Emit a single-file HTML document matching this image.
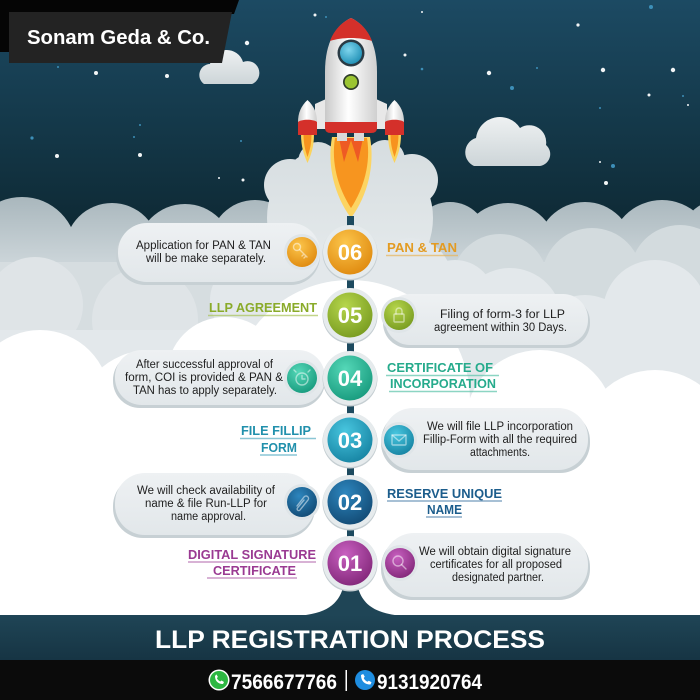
<!DOCTYPE html>
<html><head><meta charset="utf-8"><style>
html,body{margin:0;padding:0;background:#fff;}
svg{display:block;}
text{font-family:"Liberation Sans",Arial,sans-serif;}
</style></head><body>
<svg width="700" height="700" viewBox="0 0 700 700" xmlns="http://www.w3.org/2000/svg">
<defs>
<linearGradient id="sky" x1="0" y1="0" x2="0" y2="230" gradientUnits="userSpaceOnUse">
<stop offset="0" stop-color="#1c4a63"/><stop offset="0.55" stop-color="#143849"/><stop offset="1" stop-color="#0e2934"/></linearGradient>
<linearGradient id="cA" x1="0" y1="195" x2="0" y2="265" gradientUnits="userSpaceOnUse">
<stop offset="0" stop-color="#a8b6bc"/><stop offset="1" stop-color="#cdd6da"/></linearGradient>
<linearGradient id="pf" x1="0" y1="140" x2="0" y2="260" gradientUnits="userSpaceOnUse">
<stop offset="0" stop-color="#d6dde0"/><stop offset="1" stop-color="#e4e9eb"/></linearGradient>
<linearGradient id="sc" x1="0" y1="0" x2="0" y2="1"><stop offset="0" stop-color="#eef1f2"/><stop offset="1" stop-color="#cdd5d8"/></linearGradient>
<linearGradient id="band" x1="0" y1="615" x2="0" y2="661" gradientUnits="userSpaceOnUse"><stop offset="0" stop-color="#1f4556"/><stop offset="1" stop-color="#163443"/></linearGradient>
<linearGradient id="body" x1="0" y1="0" x2="1" y2="0"><stop offset="0" stop-color="#c9c9c9"/><stop offset="0.45" stop-color="#ffffff"/><stop offset="1" stop-color="#cfcfcf"/></linearGradient>
<radialGradient id="win" cx="0.4" cy="0.35" r="0.7"><stop offset="0" stop-color="#7fd6ee"/><stop offset="1" stop-color="#1f8fb5"/></radialGradient>
<radialGradient id="gO" cx="0.4" cy="0.3" r="0.75"><stop offset="0" stop-color="#fcc64c"/><stop offset="1" stop-color="#df890e"/></radialGradient>
<radialGradient id="gG" cx="0.4" cy="0.3" r="0.75"><stop offset="0" stop-color="#b6d64c"/><stop offset="1" stop-color="#789b20"/></radialGradient>
<radialGradient id="gT" cx="0.4" cy="0.3" r="0.75"><stop offset="0" stop-color="#55d8b8"/><stop offset="1" stop-color="#179a7d"/></radialGradient>
<radialGradient id="gC" cx="0.4" cy="0.3" r="0.75"><stop offset="0" stop-color="#48c6df"/><stop offset="1" stop-color="#1683a2"/></radialGradient>
<radialGradient id="gB" cx="0.4" cy="0.3" r="0.75"><stop offset="0" stop-color="#2d86be"/><stop offset="1" stop-color="#124a74"/></radialGradient>
<radialGradient id="gP" cx="0.4" cy="0.3" r="0.75"><stop offset="0" stop-color="#c860c0"/><stop offset="1" stop-color="#822779"/></radialGradient>
<linearGradient id="bub" x1="0" y1="0" x2="0" y2="1"><stop offset="0" stop-color="#eef1f3"/><stop offset="1" stop-color="#e2e7ea"/></linearGradient>
</defs>

<!-- sky -->
<rect x="0" y="0" width="700" height="330" fill="url(#sky)"/>

<!-- stars -->
<g fill="#f2f5f6">
<circle cx="315" cy="15" r="1.5"/><circle cx="247" cy="43" r="2.2"/><circle cx="96" cy="73" r="2"/><circle cx="167" cy="76" r="2"/>
<circle cx="57" cy="156" r="2"/><circle cx="140" cy="155" r="2"/><circle cx="243" cy="180" r="1.5"/><circle cx="578" cy="25" r="1.6"/>
<circle cx="405" cy="55" r="1.5"/><circle cx="489" cy="73" r="2.2"/><circle cx="603" cy="70" r="2.2"/><circle cx="673" cy="70" r="2.2"/>
<circle cx="649" cy="95" r="1.5"/><circle cx="606" cy="183" r="2"/><circle cx="600" cy="162" r="1"/><circle cx="688" cy="105" r="1"/>
<circle cx="422" cy="12" r="1"/><circle cx="219" cy="178" r="1"/>
</g>
<g fill="#3d8fb8">
<circle cx="326" cy="17" r="1"/><circle cx="58" cy="67" r="1"/><circle cx="140" cy="125" r="1"/><circle cx="134" cy="137" r="1"/>
<circle cx="32" cy="138" r="1.6"/><circle cx="241" cy="141" r="1"/><circle cx="651" cy="7" r="2"/><circle cx="422" cy="69" r="1.3"/>
<circle cx="537" cy="68" r="1"/><circle cx="512" cy="88" r="2"/><circle cx="683" cy="96" r="1"/><circle cx="600" cy="108" r="1"/>
<circle cx="613" cy="166" r="2"/>
</g>

<!-- small clouds -->
<g fill="url(#sc)">
<path d="M204,84 A11,11 0 0 1 210,64 A17,17 0 0 1 243,62 A11,11 0 0 1 252,84 Z"/>
<path d="M474,166 A15,15 0 0 1 476,138 A24,24 0 0 1 520,128 A17,17 0 0 1 546,145 A12,12 0 0 1 540,166 Z"/>
</g>

<!-- cloud layer A (back) -->
<g fill="url(#cA)">
<circle cx="22" cy="252" r="55"/><circle cx="112" cy="250" r="47"/><circle cx="185" cy="252" r="48"/><circle cx="255" cy="245" r="45"/>
<circle cx="450" cy="240" r="38"/><circle cx="508" cy="252" r="49"/><circle cx="585" cy="250" r="48"/><circle cx="662" cy="252" r="52"/>
<circle cx="720" cy="240" r="40"/>
</g>
<rect x="0" y="262" width="700" height="80" fill="#d6dde0"/>

<!-- rocket puffs -->
<g fill="url(#pf)">
<ellipse cx="335" cy="218" rx="68" ry="72"/><ellipse cx="365" cy="218" rx="68" ry="72"/>
<circle cx="290" cy="185" r="26"/><circle cx="412" cy="180" r="26"/>
<circle cx="318" cy="162" r="20"/><circle cx="385" cy="160" r="20"/>
</g>

<!-- layer B -->
<g fill="#dfe4e7">
<circle cx="35" cy="305" r="48"/><circle cx="145" cy="320" r="53"/>
</g>
<g fill="#d3dbde">
<circle cx="500" cy="282" r="48"/><circle cx="592" cy="278" r="50"/><circle cx="680" cy="275" r="50"/>
</g>
<g fill="#e3e8eb">
<circle cx="510" cy="320" r="52"/><circle cx="655" cy="312" r="52"/><circle cx="585" cy="345" r="50"/>
<rect x="0" y="330" width="700" height="130"/>
<circle cx="300" cy="280" r="42"/><circle cx="410" cy="280" r="42"/><circle cx="455" cy="300" r="40"/><circle cx="250" cy="300" r="40"/>
</g>

<!-- white front -->
<g fill="#ffffff">
<circle cx="350" cy="400" r="120"/><circle cx="225" cy="375" r="58"/><circle cx="40" cy="400" r="70"/>
<circle cx="150" cy="425" r="75"/><circle cx="540" cy="425" r="75"/><circle cx="655" cy="445" r="75"/>
<rect x="0" y="420" width="700" height="200"/>
</g>

<!-- rocket -->
<g>
<path d="M301,134 C301,147 304,155 307.5,163 C311,155 314,147 314,134Z" fill="#fbd35c"/>
<path d="M303.5,134 C303.5,145 305.5,151 307.5,157 C309.5,151 311.5,145 311.5,134Z" fill="#f7931e"/>
<path d="M388,134 C388,147 391,155 394.5,163 C398,155 401,147 401,134Z" fill="#fbd35c"/>
<path d="M390.5,134 C390.5,145 392.5,151 394.5,157 C396.5,151 398.5,145 398.5,134Z" fill="#f7931e"/>
<path d="M332,137 C327,165 334,195 351,218 C368,195 375,165 370,137Z" fill="#fcd462"/>
<path d="M335,138 C331,163 338,188 351,208 C364,188 371,163 367,138Z" fill="#f7951f"/>
<path d="M339,138 L344,162 L351,140 L358,162 L363,138Z" fill="#ee5a24"/>
<rect x="337" y="131" width="10" height="10" fill="#d9d9d9"/><rect x="354" y="131" width="10" height="10" fill="#d9d9d9"/>
<polygon points="315,104 326,99 326,129 315,129" fill="#e8e8e8"/>
<polygon points="376,99 387,104 387,129 376,129" fill="#e8e8e8"/>
<path d="M307.5,100 C314,106 317,113 317,122 L317,134 L298,134 L298,122 C298,113 301,106 307.5,100Z" fill="url(#body)"/>
<path d="M298,122 C301,119 314,119 317,122 L317,135 L298,135Z" fill="#d4302a"/>
<path d="M394.5,100 C401,106 404,113 404,122 L404,134 L385,134 L385,122 C385,113 388,106 394.5,100Z" fill="url(#body)"/>
<path d="M385,122 C388,119 401,119 404,122 L404,135 L385,135Z" fill="#d4302a"/>
<path d="M351,18 C366,25 377,42 377,72 L377,126 L325,126 L325,72 C325,42 336,25 351,18Z" fill="url(#body)"/>
<path d="M351,18 C360,22 368,30 372,41 C360,37 342,37 330,41 C334,30 342,22 351,18Z" fill="#d4302a"/>
<path d="M325,122 L377,122 L377,128 Q377,133 371,133 L331,133 Q325,133 325,128Z" fill="#d4302a"/>
<circle cx="351" cy="53" r="13.5" fill="#2a3b45"/><circle cx="351" cy="53" r="11" fill="url(#win)"/>
<circle cx="351" cy="82" r="8" fill="#2f3d2a"/><circle cx="351" cy="82" r="6.3" fill="#9bc532"/>
</g>

<!-- timeline line -->
<rect x="347" y="216" width="7" height="380" fill="#1d4a5f"/>

<!-- bubbles -->
<g>
<rect x="116" y="226" width="204" height="59" rx="29" fill="#c7d0d4"/>
<rect x="118" y="223" width="202" height="59" rx="29" fill="url(#bub)"/>
<rect x="383" y="297" width="207" height="51" rx="25" fill="#c7d0d4"/>
<rect x="385" y="294" width="203" height="51" rx="25" fill="url(#bub)"/>
<rect x="113" y="353" width="212" height="55" rx="27" fill="#c7d0d4"/>
<rect x="115" y="350" width="210" height="55" rx="27" fill="url(#bub)"/>
<rect x="381" y="411" width="209" height="62" rx="30" fill="#c7d0d4"/>
<rect x="383" y="408" width="205" height="62" rx="30" fill="url(#bub)"/>
<rect x="113" y="476" width="202" height="62" rx="30" fill="#c7d0d4"/>
<rect x="115" y="473" width="200" height="62" rx="30" fill="url(#bub)"/>
<rect x="381" y="536" width="209" height="64" rx="31" fill="#c7d0d4"/>
<rect x="383" y="533" width="205" height="64" rx="31" fill="url(#bub)"/>
</g>

<!-- bubble texts -->
<g font-size="11.5" fill="#1e1e1e">
<text x="136" y="249" textLength="135" lengthAdjust="spacingAndGlyphs">Application for PAN &amp; TAN</text>
<text x="146" y="262" textLength="120" lengthAdjust="spacingAndGlyphs">will be make separately.</text>
<text x="440" y="318" textLength="125" lengthAdjust="spacingAndGlyphs">Filing of form-3 for LLP</text>
<text x="434" y="331" textLength="133" lengthAdjust="spacingAndGlyphs">agreement within 30 Days.</text>
<text x="136" y="368" textLength="137" lengthAdjust="spacingAndGlyphs">After successful approval of</text>
<text x="125" y="381" textLength="158" lengthAdjust="spacingAndGlyphs">form, COI is provided &amp; PAN &amp;</text>
<text x="133" y="394" textLength="144" lengthAdjust="spacingAndGlyphs">TAN has to apply separately.</text>
<text x="427" y="430" textLength="146" lengthAdjust="spacingAndGlyphs">We will file LLP incorporation</text>
<text x="423" y="443" textLength="154" lengthAdjust="spacingAndGlyphs">Fillip-Form with all the required</text>
<text x="470" y="456" textLength="60" lengthAdjust="spacingAndGlyphs">attachments.</text>
<text x="137" y="494" textLength="138" lengthAdjust="spacingAndGlyphs">We will check availability of</text>
<text x="145" y="507" textLength="122" lengthAdjust="spacingAndGlyphs">name &amp; file Run-LLP for</text>
<text x="171" y="520" textLength="75" lengthAdjust="spacingAndGlyphs">name approval.</text>
<text x="419" y="555" textLength="152" lengthAdjust="spacingAndGlyphs">We will obtain digital signature</text>
<text x="430" y="568" textLength="132" lengthAdjust="spacingAndGlyphs">certificates for all proposed</text>
<text x="452" y="581" textLength="92" lengthAdjust="spacingAndGlyphs">designated partner.</text>
</g>

<!-- labels -->
<g font-size="12.5" font-weight="bold">
<text x="387" y="252" fill="#e39b22" textLength="70" lengthAdjust="spacingAndGlyphs">PAN &amp; TAN</text>
<text x="209" y="312" fill="#8aab2a" textLength="108" lengthAdjust="spacingAndGlyphs">LLP AGREEMENT</text>
<text x="387" y="372" fill="#26ab8c" textLength="106" lengthAdjust="spacingAndGlyphs">CERTIFICATE OF</text>
<text x="390" y="388" fill="#26ab8c" textLength="106" lengthAdjust="spacingAndGlyphs">INCORPORATION</text>
<text x="241" y="435" fill="#2190ac" textLength="70" lengthAdjust="spacingAndGlyphs">FILE FILLIP</text>
<text x="261" y="452" fill="#2190ac" textLength="36" lengthAdjust="spacingAndGlyphs">FORM</text>
<text x="387" y="498" fill="#1c5d8c" textLength="115" lengthAdjust="spacingAndGlyphs">RESERVE UNIQUE</text>
<text x="427" y="514" fill="#1c5d8c" textLength="35" lengthAdjust="spacingAndGlyphs">NAME</text>
<text x="188" y="559" fill="#9a3a92" textLength="128" lengthAdjust="spacingAndGlyphs">DIGITAL SIGNATURE</text>
<text x="213" y="575" fill="#9a3a92" textLength="83" lengthAdjust="spacingAndGlyphs">CERTIFICATE</text>
</g>
<g stroke-width="1.5" opacity="0.7">
<line x1="386" y1="255.5" x2="458" y2="255.5" stroke="#e8b55a"/>
<line x1="208" y1="315.5" x2="318" y2="315.5" stroke="#a9c45a"/>
<line x1="386" y1="375.5" x2="499" y2="375.5" stroke="#5cc4aa"/>
<line x1="389" y1="391.5" x2="497" y2="391.5" stroke="#5cc4aa"/>
<line x1="240" y1="438.5" x2="316" y2="438.5" stroke="#5aaec4"/>
<line x1="260" y1="455" x2="297" y2="455" stroke="#5aaec4"/>
<line x1="387" y1="501" x2="502" y2="501" stroke="#5a8ab0"/>
<line x1="426" y1="517" x2="462" y2="517" stroke="#5a8ab0"/>
<line x1="188" y1="562" x2="316" y2="562" stroke="#b56eb0"/>
<line x1="207" y1="578" x2="297" y2="578" stroke="#b56eb0"/>
</g>

<!-- bottom band -->
<rect x="0" y="615" width="700" height="46" fill="url(#band)"/>
<path d="M296,616 C327,614 338,604 343,588 L358,588 C363,604 374,614 405,616 Z" fill="#1f4556"/>

<!-- main circles -->
<g>
<g><circle cx="350" cy="253" r="27.5" fill="#c5ced2"/><circle cx="350" cy="252" r="27" fill="#e6ebed"/><circle cx="350" cy="252" r="22.5" fill="url(#gO)"/><text x="350" y="260" font-size="22" font-weight="bold" fill="#fff" text-anchor="middle">06</text></g>
<g><circle cx="350" cy="316" r="27.5" fill="#c5ced2"/><circle cx="350" cy="315" r="27" fill="#e6ebed"/><circle cx="350" cy="315" r="22.5" fill="url(#gG)"/><text x="350" y="323" font-size="22" font-weight="bold" fill="#fff" text-anchor="middle">05</text></g>
<g><circle cx="350" cy="379" r="27.5" fill="#c5ced2"/><circle cx="350" cy="378" r="27" fill="#e6ebed"/><circle cx="350" cy="378" r="22.5" fill="url(#gT)"/><text x="350" y="386" font-size="22" font-weight="bold" fill="#fff" text-anchor="middle">04</text></g>
<g><circle cx="350" cy="441" r="27.5" fill="#c5ced2"/><circle cx="350" cy="440" r="27" fill="#e6ebed"/><circle cx="350" cy="440" r="22.5" fill="url(#gC)"/><text x="350" y="448" font-size="22" font-weight="bold" fill="#fff" text-anchor="middle">03</text></g>
<g><circle cx="350" cy="503" r="27.5" fill="#c5ced2"/><circle cx="350" cy="502" r="27" fill="#e6ebed"/><circle cx="350" cy="502" r="22.5" fill="url(#gB)"/><text x="350" y="510" font-size="22" font-weight="bold" fill="#fff" text-anchor="middle">02</text></g>
<g><circle cx="350" cy="564" r="27.5" fill="#c5ced2"/><circle cx="350" cy="563" r="27" fill="#e6ebed"/><circle cx="350" cy="563" r="22.5" fill="url(#gP)"/><text x="350" y="571" font-size="22" font-weight="bold" fill="#fff" text-anchor="middle">01</text></g>
</g>

<!-- small icon circles -->
<g>
<circle cx="302" cy="252" r="18" fill="#dfe5e8"/><circle cx="302" cy="252" r="15" fill="url(#gO)"/>
<circle cx="399" cy="315" r="18" fill="#dfe5e8"/><circle cx="399" cy="315" r="15" fill="url(#gG)"/>
<circle cx="302" cy="378" r="18" fill="#dfe5e8"/><circle cx="302" cy="378" r="15" fill="url(#gT)"/>
<circle cx="399" cy="440" r="18" fill="#dfe5e8"/><circle cx="399" cy="440" r="15" fill="url(#gC)"/>
<circle cx="302" cy="502" r="18" fill="#dfe5e8"/><circle cx="302" cy="502" r="15" fill="url(#gB)"/>
<circle cx="400" cy="563" r="18" fill="#dfe5e8"/><circle cx="400" cy="563" r="15" fill="url(#gP)"/>
</g>
<g fill="none" stroke="#ffffff" stroke-opacity="0.5" stroke-width="1.4" stroke-linecap="round">
<circle cx="297" cy="247" r="3.5"/><path d="M299.5,249.5 L307,257 M304,254 L302,256 M306,256 L304,258"/>
<rect x="394" y="314" width="10" height="8" rx="1"/><path d="M396,314 v-3 a3,3 0 0 1 6,0 v3"/>
<circle cx="302" cy="379" r="6"/><path d="M302,379 v-3.5 M302,379 h3 M296,372 l-2,-2 M308,372 l2,-2"/>
<rect x="392" y="435" width="14" height="10" rx="1"/><path d="M392,435 L399,441 L406,435"/>
<path d="M297,506 L304,497 a2.5,2.5 0 0 1 4,3 L300,510 a1.5,1.5 0 0 1 -2.5,-2 L304,500"/>
<circle cx="398" cy="561" r="5"/><path d="M401.5,564.5 L406,569"/>
</g>

<!-- title -->
<text x="155" y="648" font-size="25" font-weight="bold" fill="#ffffff" textLength="390" lengthAdjust="spacingAndGlyphs">LLP REGISTRATION PROCESS</text>

<!-- black footer -->
<rect x="0" y="660" width="700" height="40" fill="#0b0b0b"/>
<circle cx="219" cy="680" r="10.5" fill="#ffffff"/>
<circle cx="219" cy="680" r="9" fill="#2db742"/>
<path d="M215,676 c0,5 3,8 8,8 l1,-2 l-2.5,-1.5 l-1.2,1 c-1.5,-0.6 -2.8,-1.9 -3.4,-3.4 l1,-1.2 l-1.5,-2.5 z" fill="#fff"/>
<text x="231" y="689" font-size="21" font-weight="bold" fill="#ffffff" textLength="106" lengthAdjust="spacingAndGlyphs">7566677766</text>
<rect x="345.5" y="670" width="1.5" height="21" fill="#ffffff"/>
<circle cx="365" cy="680" r="10" fill="#1e8de0"/>
<path d="M361,675 c0,6 3.5,9.5 9.5,9.5 l1,-2.2 l-2.7,-1.6 l-1.3,1.1 c-1.7,-0.7 -3.1,-2.1 -3.8,-3.8 l1.1,-1.3 l-1.6,-2.7 z" fill="#fff"/>
<text x="377" y="689" font-size="21" font-weight="bold" fill="#ffffff" textLength="105" lengthAdjust="spacingAndGlyphs">9131920764</text>

<!-- header -->
<polygon points="0,0 239,0 234,14 9,14 9,52 0,52" fill="#050505"/>
<polygon points="9,12 232,12 222,63 9,63" fill="#232323"/>
<text x="27" y="44" font-size="20" font-weight="bold" fill="#ffffff" textLength="183" lengthAdjust="spacingAndGlyphs">Sonam Geda &amp; Co.</text>
</svg>
</body></html>
